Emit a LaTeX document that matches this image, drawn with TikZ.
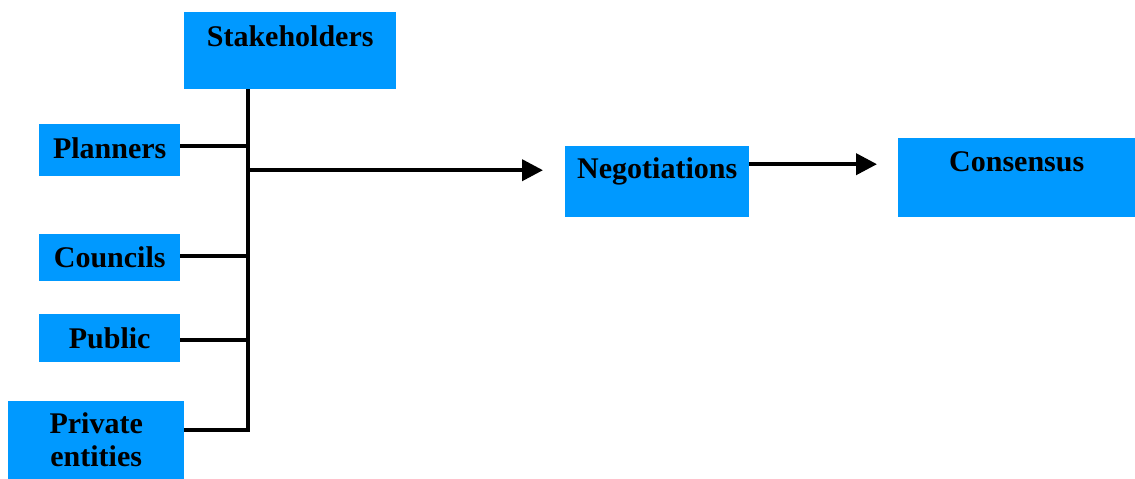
\documentclass[tikz,border=0pt]{standalone}
\usepackage{fontspec}
\setmainfont{Liberation Serif}
\usepackage{tikz}
\usetikzlibrary{arrows.meta,positioning,calc}
\definecolor{stakeblue}{RGB}{0,153,255}

\begin{document}
\begin{tikzpicture}[
    x=1pt, y=-1pt,
    box/.style={fill=stakeblue, inner sep=0pt, anchor=north west, align=center,
      font=\bfseries\fontsize{30}{33}\selectfont},
    wire/.style={line width=4pt, black},
    arrowwire/.style={line width=4pt, black, -{Triangle[length=21pt,width=21pt]}}
  ]
  \useasboundingbox (0,0) rectangle (1135,479);

  \node[box, minimum width=212pt, text height=34pt, text depth=43pt] (S) at (184,12) {Stakeholders};
  \node[box, minimum width=141pt, text height=34pt, text depth=18pt] (P) at (39,124) {Planners};
  \node[box, minimum width=141pt, text height=33pt, text depth=14pt] (C) at (39,234) {Councils};
  \node[box, minimum width=141pt, text height=34pt, text depth=14pt] (U) at (39,314) {Public};
  \node[box, minimum width=176pt, minimum height=78pt] (E) at (8,401) {Private\\entities};
  \node[box, minimum width=184pt, text height=32pt, text depth=39pt] (N) at (565,146) {Negotiations};
  \node[box, minimum width=237pt, text height=33pt, text depth=46pt] (K) at (898,138) {Consensus};

  \coordinate (J) at ([xshift=64pt]S.south west);
  \coordinate (N1) at ([yshift=11.5pt]N.west);
  \coordinate (N2) at ([yshift=17.5pt]N.east);
  \coordinate (K1) at ([xshift=-21pt]K.west);

  \draw[wire] (J) |- ([yshift=10pt]E.east);
  \draw[wire] ([yshift=4pt]P.east) -- ([yshift=4pt]P.east -| J);
  \draw[wire] ([yshift=2pt]C.east) -- ([yshift=2pt]C.east -| J);
  \draw[wire] ([yshift=-2pt]U.east) -- ([yshift=-2pt]U.east -| J);

  \draw[arrowwire] (N1 -| J) -- ([xshift=-22pt]N1);
  \draw[arrowwire] (N2) -- (N2 -| K1);
\end{tikzpicture}
\end{document}
